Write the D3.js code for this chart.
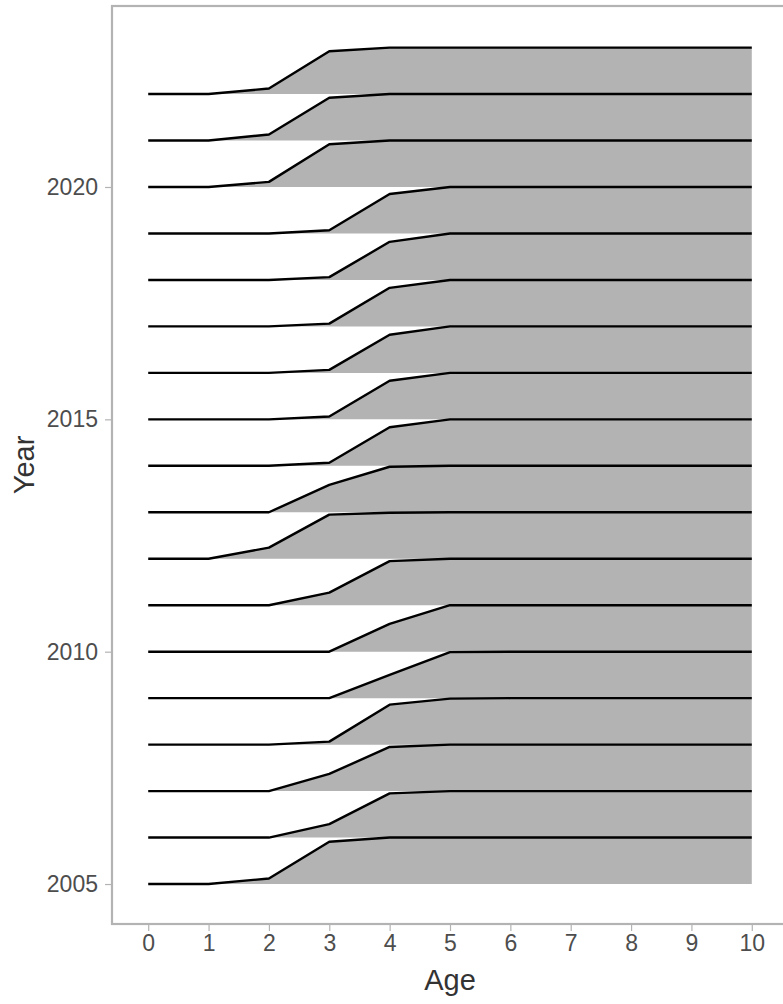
<!DOCTYPE html>
<html>
<head>
<meta charset="utf-8">
<script src="https://cdn.jsdelivr.net/npm/d3@7"></script>
<style>
  html, body { margin: 0; padding: 0; background: #fff; }
  svg { display: block; }
</style>
</head>
<body>
<svg id="chart" width="783" height="1004"></svg>
<script>
// ---- data ----
const ages = [0, 1, 2, 3, 4, 5, 6, 7, 8, 9, 10];
const years = [2005, 2006, 2007, 2008, 2009, 2010, 2011, 2012, 2013, 2014,
               2015, 2016, 2017, 2018, 2019, 2020, 2021, 2022];
// maturity proportion by age (0..10), one array per year
const m2005 = [0, 0, 0.12, 0.91, 1.0, 1, 1, 1, 1, 1, 1];
const m2006 = [0, 0, 0, 0.29, 0.95, 1, 1, 1, 1, 1, 1];
const m2007 = [0, 0, 0, 0.37, 0.95, 1, 1, 1, 1, 1, 1];
const m2008 = [0, 0, 0, 0.065, 0.86, 0.99, 1, 1, 1, 1, 1];
const m2009 = [0, 0, 0, 0, 0.50, 0.99, 1, 1, 1, 1, 1];
const m2010 = [0, 0, 0, 0, 0.60, 1.0, 1, 1, 1, 1, 1];
const m2011 = [0, 0, 0, 0.27, 0.95, 1.0, 1, 1, 1, 1, 1];
const m2012 = [0, 0, 0.24, 0.95, 0.99, 1, 1, 1, 1, 1, 1];
const m2013 = [0, 0, 0, 0.59, 0.98, 1.0, 1, 1, 1, 1, 1];
const m2014 = [0, 0, 0, 0.065, 0.83, 1, 1, 1, 1, 1, 1];
const m2015 = [0, 0, 0, 0.06, 0.83, 1, 1, 1, 1, 1, 1];
const m2016 = [0, 0, 0, 0.065, 0.82, 1, 1, 1, 1, 1, 1];
const m2017 = [0, 0, 0, 0.06, 0.83, 1, 1, 1, 1, 1, 1];
const m2018 = [0, 0, 0, 0.06, 0.82, 1, 1, 1, 1, 1, 1];
const m2019 = [0, 0, 0, 0.07, 0.85, 1, 1, 1, 1, 1, 1];
const m2020 = [0, 0, 0.11, 0.92, 1.0, 1, 1, 1, 1, 1, 1];
const m2021 = [0, 0, 0.13, 0.92, 1.0, 1, 1, 1, 1, 1, 1];
const m2022 = [0, 0, 0.12, 0.92, 1.0, 1, 1, 1, 1, 1, 1];
const maturity = [m2005, m2006, m2007, m2008, m2009, m2010, m2011, m2012, m2013,
                  m2014, m2015, m2016, m2017, m2018, m2019, m2020, m2021, m2022];
const xTicks = [0, 1, 2, 3, 4, 5, 6, 7, 8, 9, 10];
const yTicks = [2005, 2010, 2015, 2020];

// ---- layout ----
const svg = d3.select("#chart");
const panel = { left: 112, right: 788, top: 6, bottom: 924 };

const x = d3.scaleLinear().domain([-0.6, 10.6]).range([panel.left, panel.right]);
const y = d3.scaleLinear().domain([2004.14, 2023.895]).range([panel.bottom, panel.top]);
const rowH = y(2005) - y(2006); // ridge scale = 1 year spacing

const font = "'Liberation Sans', Arial, 'DejaVu Sans', sans-serif";

// ridges drawn from top to bottom so lower ones overlay
const rows = years.map((yr, i) => ({ year: yr, vals: maturity[i] })).reverse();

const area = d3.area()
  .x(d => x(d.age))
  .y0(d => y(d.year))
  .y1(d => y(d.year) - d.v * rowH);
const line = d3.line()
  .x(d => x(d.age))
  .y(d => y(d.year) - d.v * rowH);

const g = svg.append("g");
rows.forEach(r => {
  const pts = ages.map((a, j) => ({ age: a, v: r.vals[j], year: r.year }));
  g.append("path").attr("d", area(pts)).attr("fill", "#b3b3b3").attr("stroke", "none");
  g.append("path").attr("d", line(pts)).attr("fill", "none")
    .attr("stroke", "#000").attr("stroke-width", 2.4).attr("stroke-linejoin", "round");
});

// panel border
svg.append("rect")
  .attr("x", panel.left).attr("y", panel.top)
  .attr("width", panel.right - panel.left).attr("height", panel.bottom - panel.top)
  .attr("fill", "none").attr("stroke", "#b3b3b3").attr("stroke-width", 2.2);

// x axis
const xAxis = svg.append("g").attr("transform", `translate(0,${panel.bottom + 1})`)
  .call(d3.axisBottom(x).tickValues(xTicks).tickSize(6).tickPadding(4).tickFormat(d3.format("d")));
xAxis.select(".domain").remove();
xAxis.selectAll(".tick line").attr("stroke", "#b3b3b3").attr("stroke-width", 1.2);
xAxis.selectAll(".tick text").attr("fill", "#4d4d4d").style("font-family", font).style("font-size", "23px");

// y axis
const yAxis = svg.append("g").attr("transform", `translate(${panel.left - 1},0)`)
  .call(d3.axisLeft(y).tickValues(yTicks).tickSize(6).tickPadding(7).tickFormat(d3.format("d")));
yAxis.select(".domain").remove();
yAxis.selectAll(".tick line").attr("stroke", "#b3b3b3").attr("stroke-width", 1.2);
yAxis.selectAll(".tick text").attr("fill", "#4d4d4d").style("font-family", font).style("font-size", "23px");

// titles
svg.append("text")
  .attr("x", (x(0) + x(10)) / 2).attr("y", 990)
  .attr("text-anchor", "middle").attr("fill", "#333")
  .style("font-family", font).style("font-size", "29px").text("Age");
svg.append("text")
  .attr("transform", `translate(34,${(panel.top + panel.bottom) / 2}) rotate(-90)`)
  .attr("text-anchor", "middle").attr("fill", "#333")
  .style("font-family", font).style("font-size", "29px").text("Year");
</script>
</body>
</html>
